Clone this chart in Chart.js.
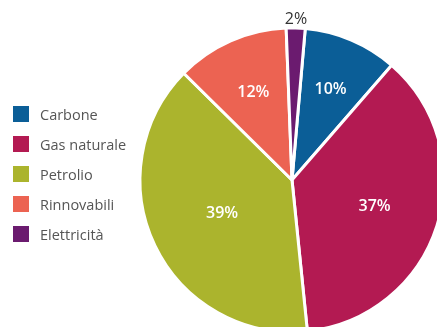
<!DOCTYPE html>
<html lang="it">
<head>
<meta charset="utf-8">
<script src="https://cdn.jsdelivr.net/npm/chart.js@4/dist/chart.umd.min.js"></script>
<style>
  html, body { margin: 0; padding: 0; background: #fff; overflow: hidden; }
  body { width: 437px; height: 327px; position: relative; font-family: "Open Sans", sans-serif; }
  #pie { position: absolute; left: 0; top: 0; }
  #legend { position: absolute; left: 13px; top: 99px; margin: 0; padding: 0; list-style: none; }
  #legend li { display: flex; align-items: center; height: 30px; font-size: 14.5px; color: #555; }
  #legend .box { width: 16px; height: 16px; margin-right: 11px; }
</style>
</head>
<body>
<canvas id="pie" width="600" height="400"></canvas>
<ul id="legend"></ul>
<script>
// Fonti energetiche (quota %)
const categorie = ['Carbone', 'Gas naturale', 'Petrolio', 'Rinnovabili', 'Elettricità'];
const quote = [10, 37, 39, 12, 2];
const colori = ['#0b5e97', '#b31a52', '#abb42d', '#ec6352', '#6b1b6f'];

// Legenda HTML a sinistra
const legendEl = document.getElementById('legend');
categorie.forEach((cat, i) => {
    const li = document.createElement('li');
    li.innerHTML = `<span class="box" style="background:${colori[i]}"></span>${cat}`;
    legendEl.appendChild(li);
});

// Etichette percentuali sulle fette
const etichette = {
    id: 'etichette',
    afterDatasetsDraw(chart, args, opts) {
        const ctx = chart.ctx;
        const meta = chart.getDatasetMeta(0);
        ctx.save();
        ctx.font = '600 16px "Open Sans", sans-serif';
        ctx.textAlign = 'center';
        ctx.textBaseline = 'middle';
        meta.data.forEach((arc, i) => {
            const v = chart.data.datasets[0].data[i];
            const mid = (arc.startAngle + arc.endAngle) / 2;
            const fuori = v < 5;
            const r = fuori ? arc.outerRadius + 9 : arc.outerRadius * opts.dist[i];
            ctx.fillStyle = fuori ? '#333' : '#fff';
            ctx.font = (fuori ? '400' : '600') + ' 16px "Open Sans", sans-serif';
            ctx.fillText(v + '%', arc.x + Math.cos(mid) * r, arc.y + Math.sin(mid) * r);
        });
        ctx.restore();
    }
};

new Chart(document.getElementById('pie'), {
    type: 'pie',
    data: {
        labels: categorie,
        datasets: [{
            data: quote,
            backgroundColor: colori,
            borderColor: '#fff',
            borderWidth: 3
        }]
    },
    options: {
        responsive: false,
        animation: false,
        rotation: 5,
        layout: { padding: { left: 138.5, top: 26.5, right: 154.5, bottom: 66.5 } },
        plugins: {
            legend: { display: false },
            tooltip: { enabled: false },
            etichette: { dist: [0.65, 0.57, 0.51, 0.63, 1] }
        }
    },
    plugins: [etichette]
});
</script>
</body>
</html>
